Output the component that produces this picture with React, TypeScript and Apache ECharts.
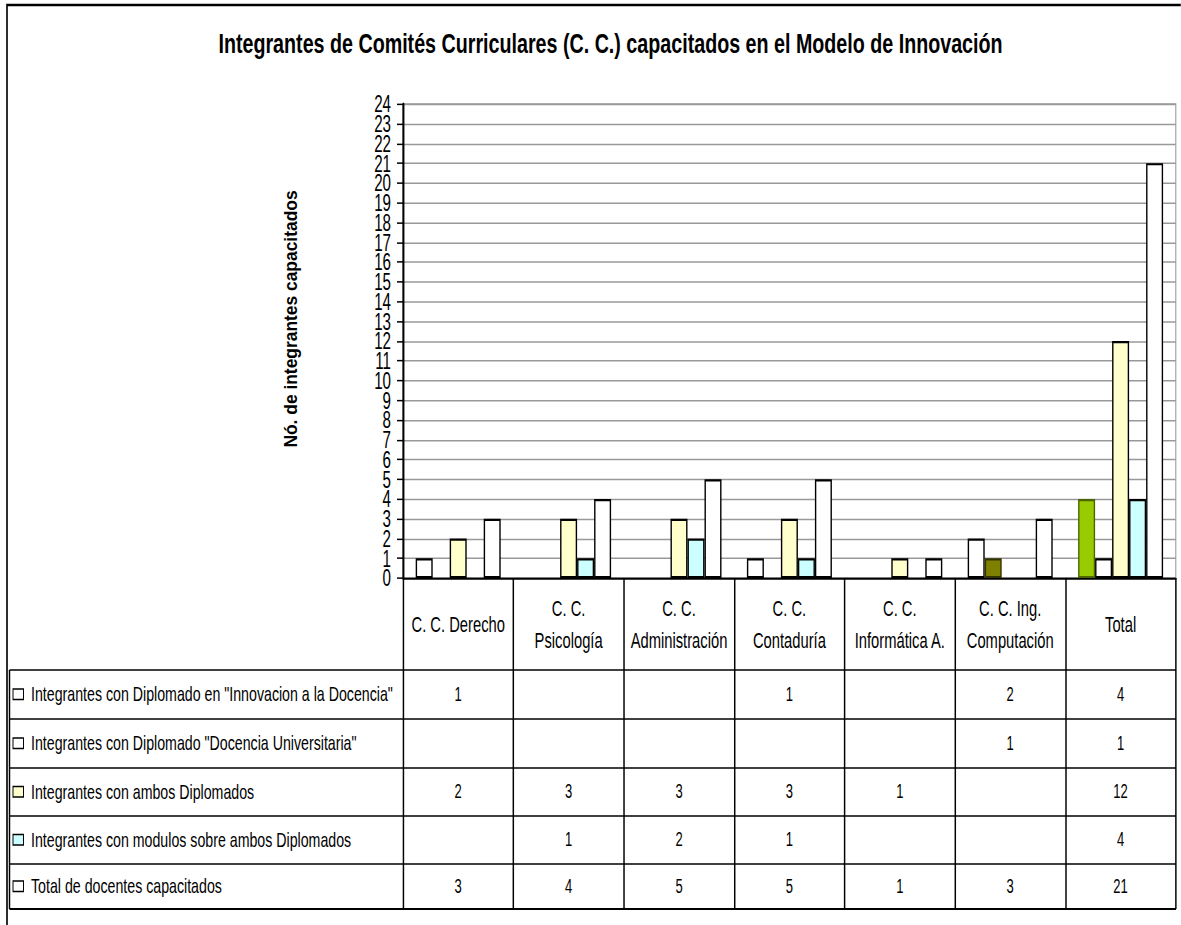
import React, { useEffect, useRef } from "react";
import * as echarts from "echarts";

const categories = [
  "C. C. Derecho",
  "C. C.\nPsicología",
  "C. C.\nAdministración",
  "C. C.\nContaduría",
  "C. C.\nInformática A.",
  "C. C. Ing.\nComputación",
  "Total",
];

const seriesNames = [
  'Integrantes con Diplomado en "Innovacion a la Docencia"',
  'Integrantes con Diplomado "Docencia Universitaria"',
  "Integrantes con ambos Diplomados",
  "Integrantes con modulos sobre ambos Diplomados",
  "Total de docentes capacitados",
];

const innovacion = [1, null, null, 1, null, 2, 4];
const docenciaUniv = [null, null, null, null, null, 1, 1];
const ambos = [2, 3, 3, 3, 1, null, 12];
const modulos = [null, 1, 2, 1, null, null, 4];
const totalDocentes = [3, 4, 5, 5, 1, 3, 21];

const yMin = 0;
const yMax = 24;
const yInterval = 1;
const yTickLabels = [
  "0", "1", "2", "3", "4", "5", "6", "7", "8", "9", "10", "11", "12",
  "13", "14", "15", "16", "17", "18", "19", "20", "21", "22", "23", "24",
];

const titleText =
  "Integrantes de Comités Curriculares (C. C.) capacitados en el Modelo de Innovación";
const yAxisTitle = "Nó. de integrantes capacitados";

const SANS = '"Liberation Sans", Arial, sans-serif';

const seriesColors = ["#FFFFFF", "#FFFFFF", "#FFFFCC", "#CCFFFF", "#FFFFFF"];
// per-point colour overrides (series index -> category index -> colour)
const pointOverrides: Record<number, Record<number, { fill: string; border: string }>> = {
  0: { 6: { fill: "#99CC00", border: "#4D6600" } },
  1: { 5: { fill: "#808000", border: "#333300" } },
};

// page size and the non-uniform scale of the original (narrow, tall lettering)
const W = 1181;
const H = 925;
const SX = 0.82;
const SY = 1.25;
const px = (x: number) => x / SX;
const py = (y: number) => y / SY;

const PLOT_LEFT = 403;
const PLOT_RIGHT = 1176;
const PLOT_TOP = 104;
const PLOT_BOTTOM = 578;
const ROW_LINES = [670, 719, 768, 816, 864, 909];
const TABLE_LEFT = 9.5;
const BASE_F = 20;

function pageText(
  text: string,
  x: number,
  y: number,
  hs: number,
  vs: number,
  opts: { bold?: boolean; align?: string; rotated?: boolean } = {}
) {
  const rotated = !!opts.rotated;
  return {
    type: "text",
    silent: true,
    x: px(x),
    y: py(y),
    rotation: rotated ? Math.PI / 2 : 0,
    scaleX: rotated ? hs / (BASE_F * SY) : hs / (BASE_F * SX),
    scaleY: rotated ? vs / (BASE_F * SX) : vs / (BASE_F * SY),
    style: {
      text,
      font: `${opts.bold ? "bold " : ""}${BASE_F}px ${SANS}`,
      fill: "#000",
      align: opts.align || "center",
      verticalAlign: "middle",
    },
    z: 100,
  };
}

export default function App() {
  const ref = useRef<HTMLDivElement>(null);

  useEffect(() => {
    if (!ref.current) return;
    const chart = echarts.init(ref.current, null, { renderer: "svg" });
    const allData = [innovacion, docenciaUniv, ambos, modulos, totalDocentes];

    const series = allData.map((arr, si) => ({
      type: "bar" as const,
      name: seriesNames[si],
      yAxisIndex: 0,
      barGap: "0%",
      barCategoryGap: "23%",
      itemStyle: { color: seriesColors[si], borderColor: "#000", borderWidth: 1.7 },
      data: arr.map((v, ci) => {
        const ov = pointOverrides[si] && pointOverrides[si][ci];
        if (v == null) return null;
        return ov
          ? { value: v, itemStyle: { color: ov.fill, borderColor: ov.border } }
          : v;
      }),
    }));

    chart.setOption({
      animation: false,
      backgroundColor: "#FFFFFF",
      grid: {
        left: px(PLOT_LEFT),
        right: px(W - PLOT_RIGHT),
        top: py(PLOT_TOP),
        bottom: py(H - PLOT_BOTTOM),
        show: true,
        borderColor: "#999",
        borderWidth: 1.3,
        backgroundColor: "transparent",
      },
      xAxis: {
        type: "category",
        data: categories,
        axisLine: { show: true, lineStyle: { color: "#000", width: 1.6 } },
        axisTick: {
          show: true,
          interval: 0,
          alignWithLabel: false,
          length: py(ROW_LINES[ROW_LINES.length - 1] - PLOT_BOTTOM),
          lineStyle: { color: "#000", width: 1.8 },
        },
        axisLabel: {
          interval: 0,
          margin: py(46),
          verticalAlign: "middle",
          lineHeight: py(32),
          fontFamily: SANS,
          fontSize: 18,
          color: "#000",
        },
        splitLine: { show: false },
      },
      yAxis: [
        {
          type: "value",
          min: yMin,
          max: yMax,
          interval: yInterval,
          position: "left",
          axisLine: { show: true, lineStyle: { color: "#000", width: 2.4 } },
          axisTick: { show: true, inside: false, length: px(6), lineStyle: { color: "#000", width: 1.2 } },
          axisLabel: { show: false },
          splitLine: { show: true, lineStyle: { color: "#999", width: 1.2 } },
        },
        {
          // tick labels: one per unit step, all shown (they overlap in the original too)
          type: "category",
          data: yTickLabels,
          boundaryGap: false,
          position: "left",
          offset: 0,
          axisLine: { show: false },
          axisTick: { show: false },
          splitLine: { show: false },
          axisLabel: {
            interval: 0,
            margin: px(12),
            fontFamily: SANS,
            fontSize: 18.5,
            color: "#000",
          },
        },
      ],
      series,
    });

    const colX = categories.map((_, i) => chart.convertToPixel({ xAxisIndex: 0 }, i) as number);
    const graphics: any[] = [];

    // outer chart border
    graphics.push({
      type: "rect",
      silent: true,
      shape: { x: px(7), y: py(5), width: px(1300), height: py(1100) },
      style: { fill: "none", stroke: "#000", lineWidth: 2 },
      z: 100,
    });
    // chart title
    graphics.push(pageText(titleText, 610.5, 43, 19.7, 28, { bold: true }));
    // y-axis title
    graphics.push(pageText(yAxisTitle, 291, 319, 17.4, 19, { bold: true, rotated: true }));
    // table horizontal lines
    ROW_LINES.forEach((y, i) => {
      graphics.push({
        type: "line",
        silent: true,
        shape: { x1: px(TABLE_LEFT), y1: py(y), x2: px(PLOT_RIGHT), y2: py(y) },
        style: { stroke: "#000", lineWidth: i === ROW_LINES.length - 1 ? 1.7 : 1.2 },
        z: 100,
      });
    });
    // table left line
    graphics.push({
      type: "line",
      silent: true,
      shape: {
        x1: px(TABLE_LEFT),
        y1: py(ROW_LINES[0]),
        x2: px(TABLE_LEFT),
        y2: py(ROW_LINES[ROW_LINES.length - 1]),
      },
      style: { stroke: "#000", lineWidth: 1.8 },
      z: 100,
    });
    // rows: legend key, label and values
    allData.forEach((arr, si) => {
      const yc = (ROW_LINES[si] + ROW_LINES[si + 1]) / 2;
      graphics.push({
        type: "rect",
        silent: true,
        shape: { x: px(13), y: py(yc - 5.5), width: px(10.5), height: py(10.5) },
        style: { fill: seriesColors[si], stroke: "#000", lineWidth: 1.2 },
        z: 100,
      });
      graphics.push(pageText(seriesNames[si], 31, yc, 14.2, 20, { align: "left" }));
      arr.forEach((v, ci) => {
        if (v == null) return;
        const g: any = pageText(String(v), 0, yc, 13, 19.5);
        g.x = colX[ci];
        graphics.push(g);
      });
    });

    chart.setOption({ graphic: graphics });

    return () => chart.dispose();
  }, []);

  return (
    <div
      style={{
        position: "absolute",
        left: 0,
        top: 0,
        width: W,
        height: H,
        overflow: "hidden",
        background: "#fff",
      }}
    >
      <div
        ref={ref}
        style={{
          width: W / SX,
          height: H / SY,
          transform: `scale(${SX}, ${SY})`,
          transformOrigin: "0 0",
        }}
      />
    </div>
  );
}
